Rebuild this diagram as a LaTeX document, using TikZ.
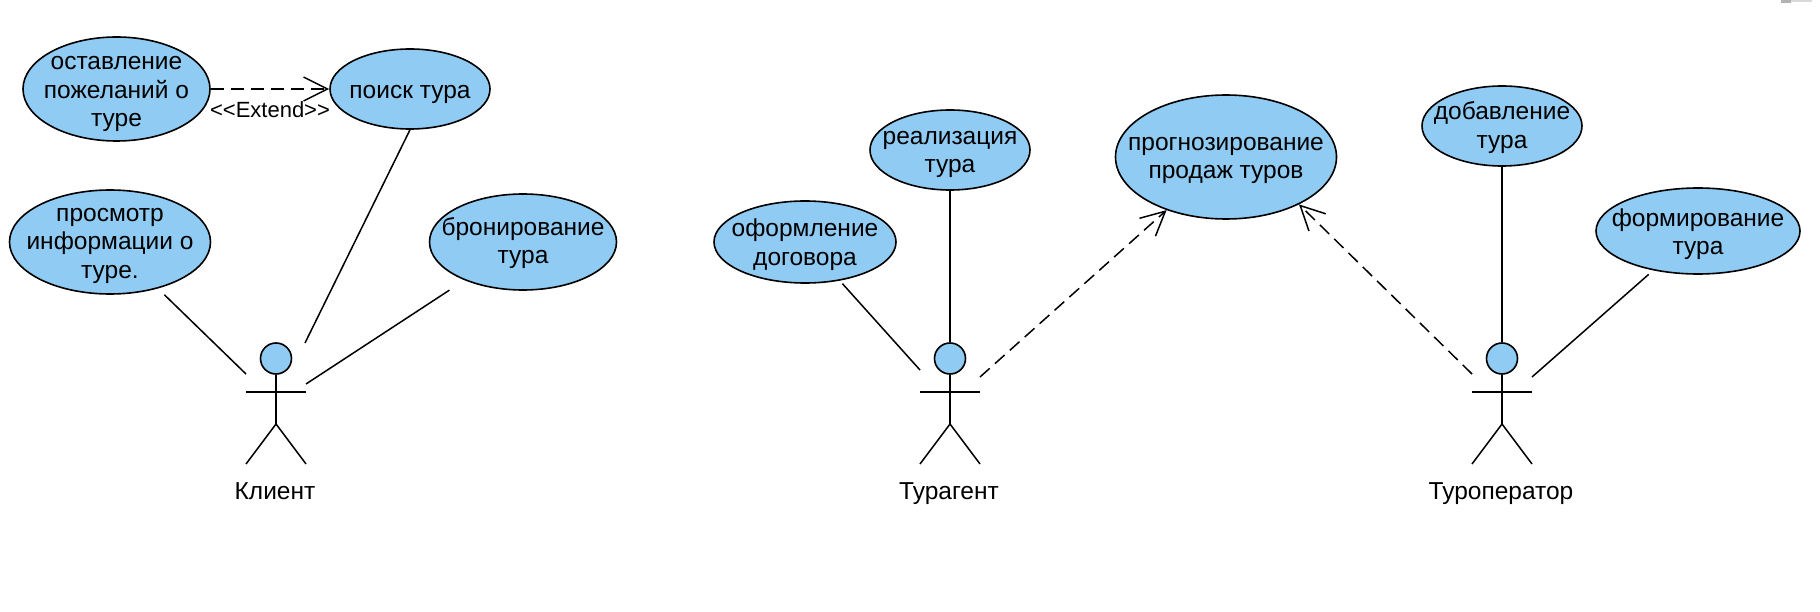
\documentclass[tikz,border=0pt]{standalone}
\usepackage{fontspec}
\setmainfont{Liberation Sans}
\usetikzlibrary{arrows.meta,shapes.geometric}
\definecolor{usecase}{RGB}{143,203,242}
\newcommand{\lowr}[1]{\rule{0pt}{#1pt}}
\tikzset{
  usec/.style={ellipse,draw,fill=usecase,line width=1.6pt,inner xsep=-30pt,inner ysep=-20pt,align=center,font=\fontsize{24.5}{28.5}\selectfont},
  head/.style={circle,draw,fill=usecase,line width=1.6pt,inner sep=0pt,minimum size=31pt},
  role/.style={text height=18pt,text depth=6pt,font=\fontsize{24.5}{29}\selectfont},
  dep/.style={line width=1.5pt,dash pattern=on 13pt off 7pt,-{Straight Barb[length=24pt,width=24pt]}}
}
\begin{document}
\begin{tikzpicture}[x=1pt,y=-1pt,line width=1.5pt]
\useasboundingbox (0,0) rectangle (1820,612);
\fill[black!30] (1781,0) rectangle (1791,3.5);
\fill[black!15] (1791,0) rectangle (1812,2);

\node (ostav) at (116.5,89)[usec,minimum width=187pt,minimum height=104pt] {\lowr{23.5}оставление\\пожеланий о\\туре};
\node (poisk) at (410,89)[usec,minimum width=160pt,minimum height=80pt] {\lowr{25}поиск тура};
\node (prosm) at (110,242)[usec,minimum width=201pt,minimum height=104pt] {\lowr{21}просмотр\\информации о\\туре.};
\node (bron) at (523,242)[usec,minimum width=187pt,minimum height=96pt] {\lowr{20}бронирование\\тура};

\node (real) at (950,150)[usec,minimum width=160pt,minimum height=80pt] {\lowr{22}реализация\\тура};
\node (oform) at (805,242)[usec,minimum width=182pt,minimum height=82pt] {\lowr{22.6}оформление\\договора};
\node (progn) at (1226,157)[usec,minimum width=221pt,minimum height=124pt] {\lowr{20}прогнозирование\\продаж туров};

\node (dobav) at (1502,126)[usec,minimum width=160pt,minimum height=80pt] {\lowr{21.4}добавление\\тура};
\node (form) at (1698,231)[usec,minimum width=204pt,minimum height=86pt] {\lowr{24}формирование\\тура};

\node (klient) at (276,358.5)[head] {};
\coordinate (kl) at (246,392);
\coordinate (kr) at (306,392);
\coordinate (kh) at (276,424);
\coordinate (kfl) at (246,464);
\coordinate (kfr) at (306,464);
\coordinate (ka) at (246,374);
\coordinate (kb) at (305,343);
\coordinate (kc) at (306,384);
\draw (klient) -- (kh);
\draw (kl) -- (kr);
\draw (kfl) -- (kh) -- (kfr);
\node (kname) at (275,493.5)[role] {Клиент};

\node (turag) at (950,358.5)[head] {};
\coordinate (tl) at (920,392);
\coordinate (tr) at (980,392);
\coordinate (th) at (950,424);
\coordinate (tfl) at (920,464);
\coordinate (tfr) at (980,464);
\coordinate (ta) at (920,370);
\coordinate (tb) at (980,377);
\draw (turag) -- (th);
\draw (tl) -- (tr);
\draw (tfl) -- (th) -- (tfr);
\node (tname) at (949,493.5)[role] {Турагент};

\node (turop) at (1502,358.5)[head] {};
\coordinate (ol) at (1472,392);
\coordinate (or) at (1532,392);
\coordinate (oh) at (1502,424);
\coordinate (ofl) at (1472,464);
\coordinate (ofr) at (1532,464);
\coordinate (oa) at (1472,374);
\coordinate (ob) at (1532,377);
\draw (turop) -- (oh);
\draw (ol) -- (or);
\draw (ofl) -- (oh) -- (ofr);
\node (oname) at (1501,493.5)[role] {Туроператор};

\draw[dep] (ostav.east) -- node[below=8pt,font=\fontsize{22}{26}\selectfont] {<{}<Extend>{}>} (poisk.west);
\draw (poisk.south) -- (kb);
\draw[shorten <=9pt] (prosm) -- (ka);
\draw[shorten <=18pt] (bron) -- (kc);

\draw (real) -- (turag);
\draw[shorten <=4pt] (oform) -- (ta);
\draw[dep] (tb) -- (progn);

\draw (dobav) -- (turop);
\draw[shorten <=6pt] (form) -- (ob);
\draw[dep] (oa) -- (progn.-33.5);
\end{tikzpicture}
\end{document}
